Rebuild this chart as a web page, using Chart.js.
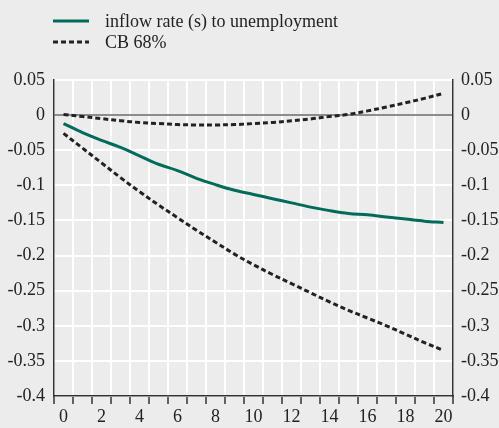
<!DOCTYPE html>
<html>
<head>
<meta charset="utf-8">
<script src="https://cdn.jsdelivr.net/npm/chart.js@4/dist/chart.umd.min.js"></script>
<style>
  html, body { margin: 0; padding: 0; background: #ececec; }
  #wrap { position: relative; width: 499px; height: 428px; background: #ececec; overflow: hidden; }
  #chart { position: absolute; left: 0; top: 0; }
  .key { position: absolute; left: 53px; height: 22px; font-family: "Liberation Serif", "Times New Roman", serif; font-size: 18px; line-height: 22px; color: #222; white-space: nowrap; }
  .key svg { position: absolute; left: 0; top: 9px; }
  .key span { position: absolute; left: 52px; top: 0; }
</style>
</head>
<body>
<div id="wrap">
  <canvas id="chart" width="499" height="428"></canvas>
  <div class="key" style="top:10px">
    <svg width="36" height="4"><line x1="0" y1="2" x2="36" y2="2" stroke="#006b5a" stroke-width="3"/></svg>
    <span>inflow rate (s) to unemployment</span>
  </div>
  <div class="key" style="top:31px">
    <svg width="36" height="4"><line x1="0" y1="2" x2="36" y2="2" stroke="#222" stroke-width="3" stroke-dasharray="5 3"/></svg>
    <span>CB 68%</span>
  </div>
</div>
<script>
// Horizon (periods after the shock)
const periods = ['0','1','2','3','4','5','6','7','8','9','10','11','12','13','14','15','16','17','18','19','20'];

// Impulse response of the inflow rate to unemployment
const inflowRate = [-0.012, -0.025, -0.036, -0.046, -0.058, -0.070, -0.079, -0.090, -0.099, -0.107,
                    -0.113, -0.119, -0.125, -0.131, -0.136, -0.140, -0.142, -0.145, -0.148, -0.151, -0.153];

// 68% confidence band
const bandUpper = [0.001, -0.002, -0.005, -0.008, -0.0105, -0.012, -0.0135, -0.014, -0.014, -0.0135,
                   -0.012, -0.0105, -0.008, -0.0055, -0.002, 0.001, 0.006, 0.0115, 0.0175, 0.0238, 0.031];
const bandLower = [-0.026, -0.047, -0.068, -0.089, -0.109, -0.128, -0.146, -0.164, -0.181, -0.198,
                   -0.213, -0.227, -0.240, -0.253, -0.266, -0.278, -0.289, -0.300, -0.312, -0.324, -0.335];

// Value axis
const yMin = -0.4, yMax = 0.05, yStep = 0.05;

const FONT = { family: '"Liberation Serif", "Times New Roman", serif', size: 18 };
const TEXT = '#222';
const AXIS = '#333';

function fmt(v) {
  const s = parseFloat(Number(v).toFixed(2));
  return s === 0 ? '0' : String(s);
}

const dashed = { borderColor: '#222', borderWidth: 3, borderDash: [5, 3], pointRadius: 0, tension: 0.35, fill: false };

new Chart(document.getElementById('chart'), {
  type: 'line',
  data: {
    labels: periods,
    datasets: [
      { label: 'inflow rate (s) to unemployment', data: inflowRate, borderColor: '#006b5a', borderWidth: 3, pointRadius: 0, tension: 0.35, fill: false },
      Object.assign({ label: 'CB 68%', data: bandUpper }, dashed),
      Object.assign({ label: 'CB 68% lower', data: bandLower }, dashed)
    ]
  },
  options: {
    responsive: false,
    animation: false,
    devicePixelRatio: 1,
    layout: { padding: { top: 80, left: 0, right: 0, bottom: 0 } },
    plugins: { legend: { display: false }, tooltip: { enabled: false } },
    scales: {
      x: {
        type: 'category',
        offset: true,
        grid: { offset: true, color: '#ffffff', lineWidth: 2, drawTicks: true, tickLength: 8, tickColor: AXIS, tickWidth: 1.5 },
        border: { display: true, color: AXIS, width: 1.5 },
        ticks: {
          autoSkip: false, maxRotation: 0, padding: 2, color: TEXT, font: FONT,
          callback: function (val, i) { return i % 2 === 0 ? this.getLabelForValue(val) : ''; }
        },
        afterFit: s => { s.height = 32; }
      },
      y: {
        position: 'left',
        min: yMin, max: yMax,
        grid: {
          drawTicks: false,
          color: c => (c.tick && Math.abs(c.tick.value) < 1e-9) ? '#8c8c8c' : '#ffffff',
          lineWidth: 2
        },
        border: { display: true, color: AXIS, width: 1.5 },
        ticks: { stepSize: yStep, padding: 9, color: TEXT, font: FONT, callback: v => fmt(v) },
        afterFit: s => { s.width = 54; }
      },
      y2: {
        position: 'right',
        min: yMin, max: yMax,
        grid: { drawOnChartArea: false, drawTicks: false },
        border: { display: true, color: AXIS, width: 1.5 },
        ticks: { stepSize: yStep, padding: 8, color: TEXT, font: FONT, callback: v => fmt(v) },
        afterFit: s => { s.width = 46; }
      }
    }
  }
});
</script>
</body>
</html>
